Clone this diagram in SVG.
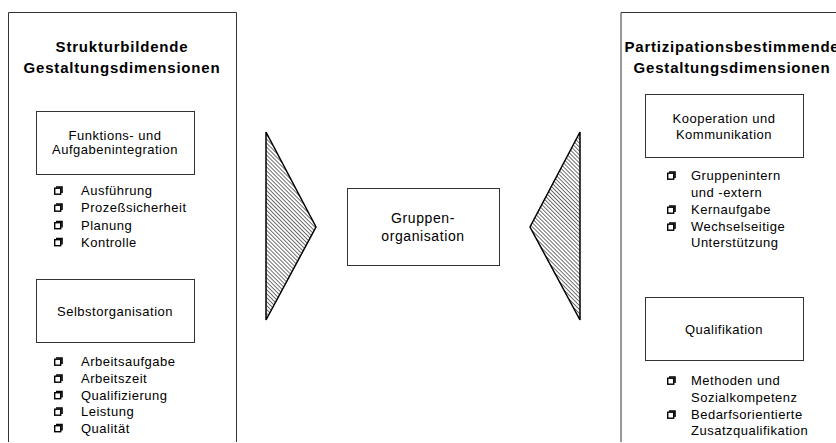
<svg xmlns="http://www.w3.org/2000/svg" width="836" height="443" viewBox="0 0 836 443">
<defs>
<style>
text{font-family:"Liberation Sans",Arial,sans-serif;fill:#000}
.t{font-size:15px;font-weight:bold;letter-spacing:0.8px;text-anchor:middle}
.b{font-size:13px;letter-spacing:0.5px;text-anchor:middle}
.l{font-size:13px;letter-spacing:0.5px}
.c{font-size:14px;letter-spacing:0.6px;text-anchor:middle}
.frame{fill:none;stroke:#333;stroke-width:1}
.box{fill:#fff;stroke:#333;stroke-width:1}
.tri{fill:url(#hatch);stroke:#000;stroke-width:1.5;stroke-linejoin:miter}
</style>
<pattern id="hatch" width="2.8" height="2.8" patternUnits="userSpaceOnUse" patternTransform="rotate(-45)">
<rect width="2.8" height="2.8" fill="#fff"/>
<line x1="0" y1="0" x2="0" y2="2.8" stroke="#222" stroke-width="1.3"/>
</pattern>
<g id="bul">
<rect x="0.7" y="2.2" width="6" height="6" fill="#fff" stroke="#000" stroke-width="1.4"/>
<path d="M2 1 H8 V7" fill="none" stroke="#000" stroke-width="1.6"/>
</g>
</defs>

<g id="left-panel">
<path class="frame" d="M8.5 442 V12.5 H236.5 V442"/>
<text class="t" x="122" y="52">Strukturbildende</text>
<text class="t" x="122" y="73">Gestaltungsdimensionen</text>
</g>

<g id="funktion">
<rect class="box" x="36.5" y="111.5" width="158" height="63"/>
<text class="b" x="115" y="140">Funktions- und</text>
<text class="b" x="115" y="154">Aufgabenintegration</text>
</g>

<g id="funktion-list">
<use href="#bul" x="54" y="186"/><text class="l" x="81" y="195">Ausführung</text>
<use href="#bul" x="54" y="203"/><text class="l" x="81" y="212">Prozeßsicherheit</text>
<use href="#bul" x="54" y="220.5"/><text class="l" x="81" y="229.5">Planung</text>
<use href="#bul" x="54" y="237.5"/><text class="l" x="81" y="246.5">Kontrolle</text>
</g>

<g id="selbst">
<rect class="box" x="36.5" y="279.5" width="158" height="63"/>
<text class="b" x="115" y="316">Selbstorganisation</text>
</g>

<g id="selbst-list">
<use href="#bul" x="54" y="357"/><text class="l" x="81" y="366">Arbeitsaufgabe</text>
<use href="#bul" x="54" y="374"/><text class="l" x="81" y="383">Arbeitszeit</text>
<use href="#bul" x="54" y="390.5"/><text class="l" x="81" y="399.5">Qualifizierung</text>
<use href="#bul" x="54" y="407"/><text class="l" x="81" y="416">Leistung</text>
<use href="#bul" x="54" y="423.5"/><text class="l" x="81" y="432.5">Qualität</text>
</g>

<g id="connectors">
<polygon class="tri" points="266,132 316,227 266,320"/>
<polygon class="tri" points="580,132 530,227 580,320"/>
</g>

<g id="gruppe">
<rect class="box" x="347.5" y="188.5" width="152" height="77"/>
<text class="c" x="423" y="223">Gruppen-</text>
<text class="c" x="423" y="241">organisation</text>
</g>

<g id="right-panel">
<path class="frame" d="M621 442 V12.5 H836"/>
<text class="t" x="732" y="52">Partizipationsbestimmende</text>
<text class="t" x="732" y="73">Gestaltungsdimensionen</text>
</g>

<g id="kooperation">
<rect class="box" x="645.5" y="94.5" width="158" height="63"/>
<text class="b" x="724" y="122.5">Kooperation und</text>
<text class="b" x="724" y="138.5">Kommunikation</text>
</g>

<g id="kooperation-list">
<use href="#bul" x="667" y="171"/><text class="l" x="691" y="180">Gruppenintern</text>
<text class="l" x="691" y="197">und -extern</text>
<use href="#bul" x="667" y="205"/><text class="l" x="691" y="214">Kernaufgabe</text>
<use href="#bul" x="667" y="222"/><text class="l" x="691" y="231">Wechselseitige</text>
<text class="l" x="691" y="247">Unterstützung</text>
</g>

<g id="qualifikation">
<rect class="box" x="645.5" y="297.5" width="158" height="63"/>
<text class="b" x="724" y="334">Qualifikation</text>
</g>

<g id="qualifikation-list">
<use href="#bul" x="667" y="376"/><text class="l" x="691" y="385">Methoden und</text>
<text class="l" x="691" y="402">Sozialkompetenz</text>
<use href="#bul" x="667" y="410"/><text class="l" x="691" y="419">Bedarfsorientierte</text>
<text class="l" x="691" y="435">Zusatzqualifikation</text>
</g>
</svg>
